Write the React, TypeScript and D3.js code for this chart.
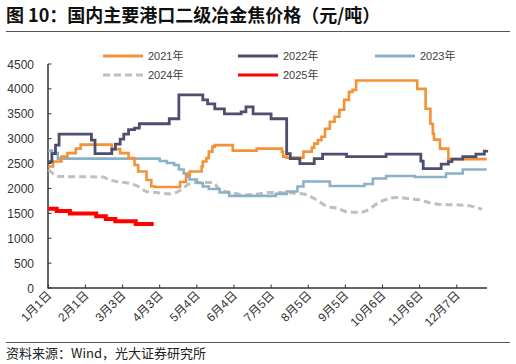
import React from "react";
import * as d3 from "d3";

// day-of-year offsets and values (元/吨)
const s2021: [number, number][] = [[0,2440],[4,2540],[11,2640],[16,2710],[23,2800],[27,2880],[53,2790],[60,2710],[67,2610],[72,2470],[75,2340],[82,2170],[86,2040],[89,2030],[110,2130],[115,2270],[118,2340],[128,2440],[129,2540],[132,2610],[134,2740],[137,2840],[139,2870],[154,2760],[174,2800],[195,2740],[196,2640],[199,2620],[213,2740],[220,2820],[222,2900],[225,2970],[228,3040],[231,3200],[235,3340],[239,3440],[243,3580],[247,3780],[251,3940],[254,3980],[257,4170],[308,4000],[315,3600],[319,3300],[321,3100],[322,2980],[327,2800],[334,2590],[366,2590]];
const s2022: [number, number][] = [[0,2540],[3,2700],[6,2870],[9,3090],[36,2970],[39,2700],[53,2790],[56,2890],[60,2990],[63,3090],[67,3180],[72,3210],[76,3300],[101,3400],[109,3880],[129,3780],[133,3700],[139,3600],[147,3500],[161,3540],[165,3640],[171,3500],[186,3400],[199,2700],[202,2600],[210,2500],[222,2600],[229,2690],[249,2640],[282,2690],[311,2550],[313,2400],[328,2490],[334,2540],[337,2590],[346,2640],[357,2690],[364,2750],[366,2770]];
const s2023: [number, number][] = [[0,2760],[3,2710],[8,2600],[93,2550],[99,2510],[105,2470],[109,2380],[113,2300],[116,2230],[118,2180],[124,2110],[129,2040],[134,1990],[143,1920],[151,1850],[190,1890],[199,1940],[208,2040],[213,2140],[235,2050],[264,2090],[271,2200],[282,2250],[306,2230],[332,2300],[346,2380],[366,2380]];
const s2024: [number, number][] = [[0,2380],[5,2280],[10,2240],[46,2230],[50,2180],[57,2140],[68,2100],[75,2040],[82,1940],[90,1920],[102,1890],[110,1960],[115,2050],[121,2120],[138,2120],[141,2030],[145,1950],[153,1920],[162,1870],[172,1880],[185,1920],[196,1915],[209,1900],[216,1870],[224,1770],[232,1650],[241,1600],[252,1520],[260,1520],[268,1580],[274,1690],[281,1770],[291,1820],[302,1790],[310,1770],[319,1710],[327,1680],[341,1670],[352,1650],[362,1580]];
const s2025: [number, number][] = [[0,1590],[7,1545],[18,1495],[40,1440],[48,1385],[56,1340],[73,1285],[88,1285]];

const xTickDays = [0, 31, 62, 93, 124, 155, 186, 217, 248, 279, 310, 341];
const xTickLabels = ["1月1日","2月1日","3月3日","4月3日","5月4日","6月4日","7月5日","8月5日","9月5日","10月6日","11月6日","12月7日"];
const yTicks = [0, 500, 1000, 1500, 2000, 2500, 3000, 3500, 4000, 4500];

const C21 = "#F39237";
const C22 = "#4E4E6E";
const C23 = "#8AB2C7";
const C24 = "#BFBFBF";
const C25 = "#FF0000";

const legend = [
  { name: "2021年", color: C21, dash: "", w: 3, col: 0, row: 0 },
  { name: "2022年", color: C22, dash: "", w: 3, col: 1, row: 0 },
  { name: "2023年", color: C23, dash: "", w: 3, col: 2, row: 0 },
  { name: "2024年", color: C24, dash: "7,4", w: 3, col: 0, row: 1 },
  { name: "2025年", color: C25, dash: "", w: 3, col: 1, row: 1 },
];

export default function App() {
  const x = d3.scaleLinear().domain([0, 366]).range([48.3, 486.7]);
  const y = d3.scaleLinear().domain([0, 4500]).range([288, 64]);
  const step = d3.line<[number, number]>().x(d => x(d[0])).y(d => y(d[1])).curve(d3.curveStepAfter);
  const smooth = d3.line<[number, number]>().x(d => x(d[0])).y(d => y(d[1])).curve(d3.curveMonotoneX);
  const num = "'Liberation Sans', Arial, sans-serif";
  const cjk = "'Liberation Sans', 'Noto Sans CJK SC', sans-serif";
  const legX = [103, 238, 375];
  const legY = [56, 75];
  return (
    <div style={{ position: "absolute", left: 0, top: 0 }}>
      <svg width={516} height={364} style={{ display: "block", background: "#fff" }}>
        <text x={6} y={22} fontFamily="'Noto Sans CJK SC', sans-serif" fontWeight="bold" fontSize={18} fill="#111">图 10：国内主要港口二级冶金焦价格（元/吨）</text>
        <line x1={6} x2={510} y1={31.5} y2={31.5} stroke="#555" strokeWidth={1} />
        {legend.map(l => (
          <g key={l.name}>
            <line x1={legX[l.col]} x2={legX[l.col] + 40} y1={legY[l.row]} y2={legY[l.row]} stroke={l.color} strokeWidth={l.w} strokeDasharray={l.dash || undefined} />
            <text x={legX[l.col] + 45} y={legY[l.row] + 4} fontFamily={cjk} fontSize={11} fill="#404040">{l.name}</text>
          </g>
        ))}
        {yTicks.map(t => (
          <g key={t}>
            <text x={34} y={y(t) + 4.5} textAnchor="end" fontFamily={num} fontSize={12} fill="#333">{t}</text>
            <line x1={48} x2={51.5} y1={y(t)} y2={y(t)} stroke="#333" strokeWidth={1} />
          </g>
        ))}
        <line x1={48} x2={48} y1={64} y2={288.5} stroke="#333" strokeWidth={1.5} />
        <line x1={48} x2={487} y1={288} y2={288} stroke="#333" strokeWidth={1.5} />
        {xTickDays.map((d, i) => (
          <g key={d}>
            <line x1={x(d)} x2={x(d)} y1={288} y2={284.5} stroke="#333" strokeWidth={1} />
            <text transform={`translate(${x(d) + 4},${296}) rotate(-45)`} textAnchor="end" fontFamily={cjk} fontSize={12} fill="#333">{xTickLabels[i]}</text>
          </g>
        ))}
        <path d={smooth(s2024) || ""} fill="none" stroke={C24} strokeWidth={3} strokeDasharray="7,4" />
        <path d={step(s2023) || ""} fill="none" stroke={C23} strokeWidth={2.6} />
        <path d={step(s2021) || ""} fill="none" stroke={C21} strokeWidth={2.6} />
        <path d={step(s2022) || ""} fill="none" stroke={C22} strokeWidth={2.8} />
        <path d={step(s2025) || ""} fill="none" stroke={C25} strokeWidth={4} />
        <line x1={6} x2={510} y1={342.5} y2={342.5} stroke="#555" strokeWidth={1} />
        <text x={6} y={357.5} fontFamily="'Noto Sans CJK SC', sans-serif" fontSize={13} fill="#222">资料来源：Wind，光大证券研究所</text>
      </svg>
    </div>
  );
}
